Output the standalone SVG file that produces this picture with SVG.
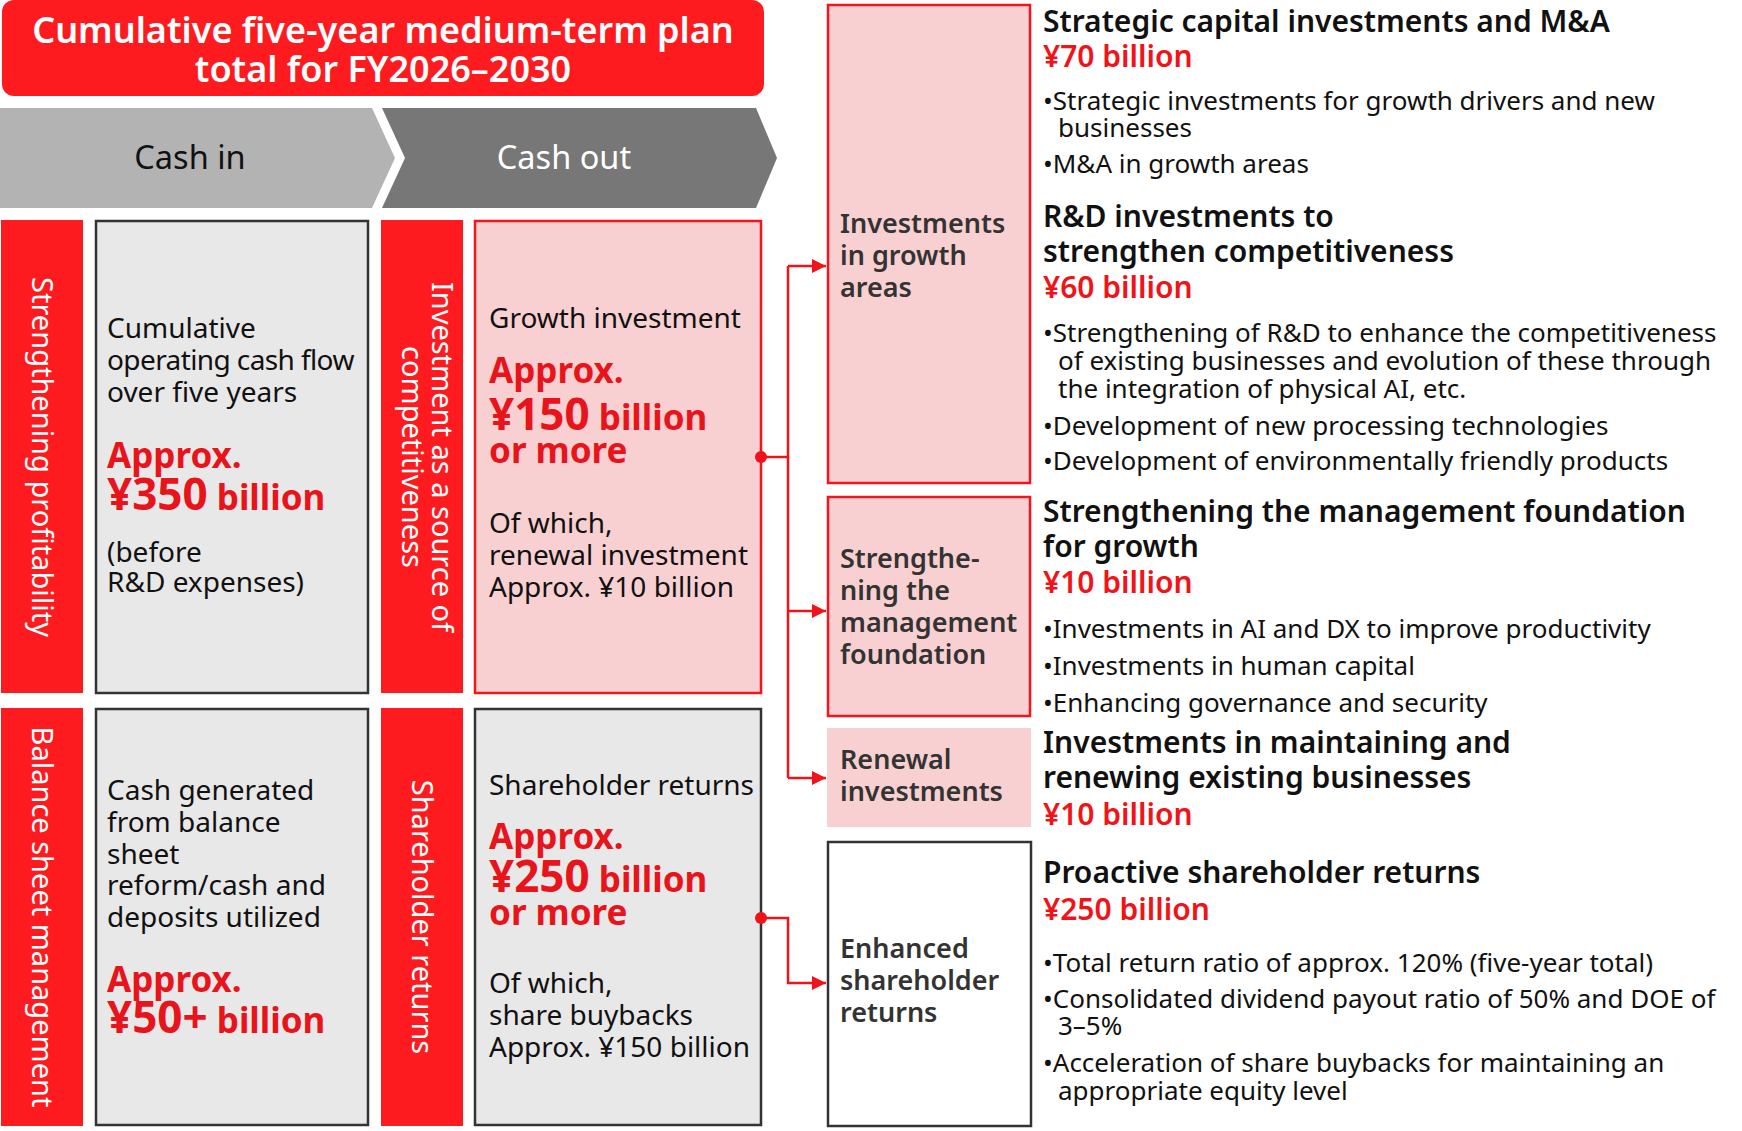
<svg xmlns="http://www.w3.org/2000/svg" width="1742" height="1131" viewBox="0 0 1742 1131">
<defs>
<style>
text{font-family:"Noto Sans","Open Sans","Liberation Sans",sans-serif;}
.title{font-size:36px;font-weight:600;fill:#fff;text-anchor:middle;}
.chev{font-size:32.5px;text-anchor:middle;}
.vert{font-size:29px;fill:#fff;text-anchor:middle;}
.body{font-size:28px;fill:#111;}
.tight{letter-spacing:-0.6px;}
.big{font-size:35px;font-weight:700;fill:#e8141c;}
.big .num{font-size:44px;}
.lab{font-size:27px;font-weight:600;fill:#333;}
.head{font-size:30px;font-weight:600;fill:#111;}
.amt{font-size:30px;font-weight:600;fill:#f01418;}
.bul{font-size:26px;fill:#111;}
.redbar{fill:#fe1b1f;}
.grey{fill:#e8e8e8;stroke:#333;stroke-width:2.5;}
.pink{fill:#f9d0d1;stroke:#f4141c;stroke-width:2.5;}
.pinkns{fill:#f9d0d1;}
.white{fill:#fff;stroke:#333;stroke-width:2.5;}
.conn{fill:none;stroke:#f0141a;stroke-width:2.5;}
</style>
<marker id="arr" viewBox="0 0 10 10" refX="10" refY="5" markerUnits="userSpaceOnUse" markerWidth="14" markerHeight="17" orient="auto">
<path d="M0,0 L10,5 L0,10 Z" fill="#f0141a"/>
</marker>
</defs>
<rect width="1742" height="1131" fill="#fff"/>

<g id="title">
<rect x="2" y="0" width="762" height="96" rx="12" fill="#fe1b1f"/>
<text class="title" x="383" y="43">Cumulative five-year medium-term plan</text>
<text class="title" x="383" y="82">total for FY2026–2030</text>
</g>

<g id="cash-in">
<polygon points="0,108 372,108 395,158 372,208 0,208" fill="#b3b3b3"/>
<text class="chev" x="190" y="169" fill="#111">Cash in</text>
</g>
<g id="cash-out">
<polygon points="382,108 756,108 777,158 756,208 382,208 405,158" fill="#777"/>
<text class="chev" x="564" y="169" fill="#fff">Cash out</text>
</g>

<g id="bar-profitability">
<rect class="redbar" x="1" y="220" width="82" height="473"/>
<text class="vert" transform="translate(32,457) rotate(90)">Strengthening profitability</text>
</g>
<g id="box-operating-cf">
<rect class="grey" x="96" y="221" width="272" height="472"/>
<text class="body" x="107" y="338">Cumulative</text>
<text class="body tight" x="107" y="370">operating cash flow</text>
<text class="body" x="107" y="402">over five years</text>
<text class="big" x="107" y="468">Approx.</text>
<text class="big" x="107" y="510"><tspan class="num">¥350</tspan> billion</text>
<text class="body" x="107" y="562">(before</text>
<text class="body" x="107" y="592">R&amp;D expenses)</text>
</g>

<g id="bar-competitiveness">
<rect class="redbar" x="381" y="220" width="82" height="473"/>
<text class="vert" transform="translate(432,457) rotate(90)">Investment as a source of</text>
<text class="vert" transform="translate(402,457) rotate(90)">competitiveness</text>
</g>
<g id="box-growth-investment">
<rect class="pink" x="475" y="221" width="286" height="472"/>
<text class="body" x="489" y="328">Growth investment</text>
<text class="big" x="489" y="383">Approx.</text>
<text class="big" x="489" y="430"><tspan class="num">¥150</tspan> billion</text>
<text class="big" x="489" y="463">or more</text>
<text class="body" x="489" y="533">Of which,</text>
<text class="body" x="489" y="565">renewal investment</text>
<text class="body" x="489" y="597">Approx. ¥10 billion</text>
</g>

<g id="bar-balance-sheet">
<rect class="redbar" x="1" y="708" width="82" height="418"/>
<text class="vert" transform="translate(32,917) rotate(90)">Balance sheet management</text>
</g>
<g id="box-balance-cash">
<rect class="grey" x="96" y="709" width="272" height="416"/>
<text class="body" x="107" y="800">Cash generated</text>
<text class="body" x="107" y="832">from balance</text>
<text class="body" x="107" y="864">sheet</text>
<text class="body" x="107" y="895">reform/cash and</text>
<text class="body" x="107" y="927">deposits utilized</text>
<text class="big" x="107" y="992">Approx.</text>
<text class="big" x="107" y="1033"><tspan class="num">¥50+</tspan> billion</text>
</g>

<g id="bar-shareholder">
<rect class="redbar" x="381" y="708" width="82" height="418"/>
<text class="vert" transform="translate(412,917) rotate(90)">Shareholder returns</text>
</g>
<g id="box-shareholder-returns">
<rect class="grey" x="475" y="709" width="286" height="416"/>
<text class="body" x="489" y="795">Shareholder returns</text>
<text class="big" x="489" y="849">Approx.</text>
<text class="big" x="489" y="892"><tspan class="num">¥250</tspan> billion</text>
<text class="big" x="489" y="925">or more</text>
<text class="body" x="489" y="993">Of which,</text>
<text class="body" x="489" y="1025">share buybacks</text>
<text class="body" x="489" y="1057">Approx. ¥150 billion</text>
</g>

<g id="connectors">
<path class="conn" d="M761,457 H788"/>
<path class="conn" d="M788,266 V778"/>
<path class="conn" d="M788,266 H826" marker-end="url(#arr)"/>
<path class="conn" d="M788,611 H826" marker-end="url(#arr)"/>
<path class="conn" d="M788,778 H826" marker-end="url(#arr)"/>
<path class="conn" d="M761,918 H788 V983 H826" marker-end="url(#arr)"/>
<circle cx="761" cy="457" r="6" fill="#f0141a"/>
<circle cx="761" cy="918" r="6" fill="#f0141a"/>
</g>

<g id="node-growth-areas">
<rect class="pink" x="828" y="5" width="202" height="478"/>
<text class="lab" x="840" y="233">Investments</text>
<text class="lab" x="840" y="265">in growth</text>
<text class="lab" x="840" y="297">areas</text>
</g>
<g id="node-management-foundation">
<rect class="pink" x="828" y="497" width="202" height="219"/>
<text class="lab" x="840" y="568">Strengthe-</text>
<text class="lab" x="840" y="600">ning the</text>
<text class="lab" x="840" y="632">management</text>
<text class="lab" x="840" y="664">foundation</text>
</g>
<g id="node-renewal">
<rect class="pinkns" x="827" y="728" width="204" height="99"/>
<text class="lab" x="840" y="769">Renewal</text>
<text class="lab" x="840" y="801">investments</text>
</g>
<g id="node-enhanced-returns">
<rect class="white" x="828" y="842" width="203" height="284"/>
<text class="lab" x="840" y="958">Enhanced</text>
<text class="lab" x="840" y="990">shareholder</text>
<text class="lab" x="840" y="1022">returns</text>
</g>

<g id="detail-growth">
<text class="head" x="1043" y="32">Strategic capital investments and M&amp;A</text>
<text class="amt" x="1043" y="67">¥70 billion</text>
<text class="bul" x="1043" y="110">•Strategic investments for growth drivers and new</text>
<text class="bul" x="1058" y="137">businesses</text>
<text class="bul" x="1043" y="173">•M&amp;A in growth areas</text>
<text class="head" x="1043" y="227">R&amp;D investments to</text>
<text class="head" x="1043" y="262">strengthen competitiveness</text>
<text class="amt" x="1043" y="298">¥60 billion</text>
<text class="bul" x="1043" y="342">•Strengthening of R&amp;D to enhance the competitiveness</text>
<text class="bul" x="1058" y="370">of existing businesses and evolution of these through</text>
<text class="bul" x="1058" y="398">the integration of physical AI, etc.</text>
<text class="bul" x="1043" y="435">•Development of new processing technologies</text>
<text class="bul" x="1043" y="470">•Development of environmentally friendly products</text>
</g>
<g id="detail-management">
<text class="head" x="1043" y="522">Strengthening the management foundation</text>
<text class="head" x="1043" y="557">for growth</text>
<text class="amt" x="1043" y="593">¥10 billion</text>
<text class="bul" x="1043" y="638">•Investments in AI and DX to improve productivity</text>
<text class="bul" x="1043" y="675">•Investments in human capital</text>
<text class="bul" x="1043" y="712">•Enhancing governance and security</text>
</g>
<g id="detail-renewal">
<text class="head" x="1043" y="753">Investments in maintaining and</text>
<text class="head" x="1043" y="788">renewing existing businesses</text>
<text class="amt" x="1043" y="825">¥10 billion</text>
</g>
<g id="detail-returns">
<text class="head" x="1043" y="883">Proactive shareholder returns</text>
<text class="amt" x="1043" y="920">¥250 billion</text>
<text class="bul" x="1043" y="972">•Total return ratio of approx. 120% (five-year total)</text>
<text class="bul" x="1043" y="1008">•Consolidated dividend payout ratio of 50% and DOE of</text>
<text class="bul" x="1058" y="1035">3–5%</text>
<text class="bul" x="1043" y="1072">•Acceleration of share buybacks for maintaining an</text>
<text class="bul" x="1058" y="1100">appropriate equity level</text>
</g>
</svg>
